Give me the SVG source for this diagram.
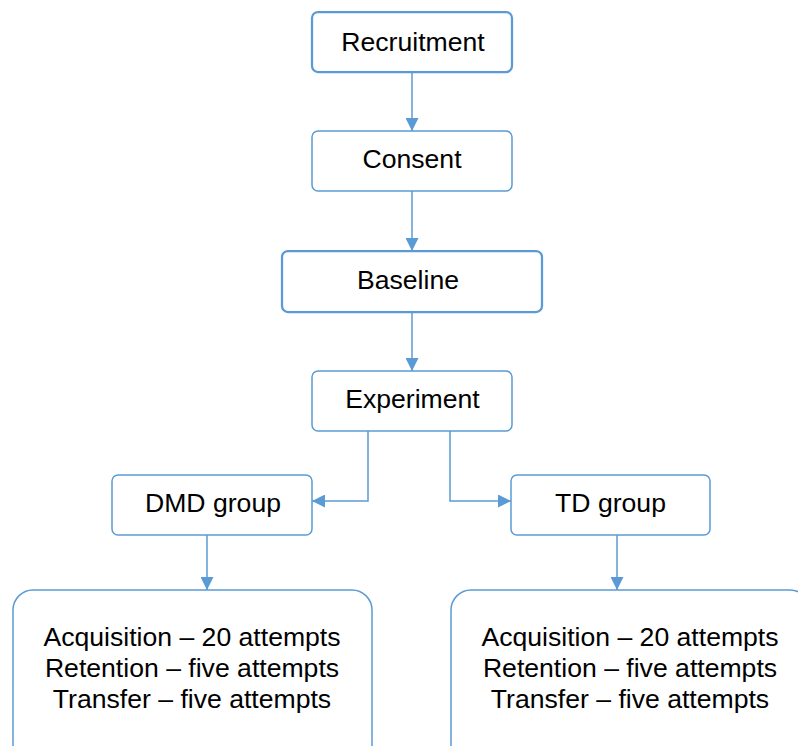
<svg xmlns="http://www.w3.org/2000/svg" width="798" height="746" viewBox="0 0 798 746">
<style>
.box{fill:#fff;stroke:#5b9bd5;stroke-width:1.5}
.thick{stroke-width:2.25}
.t{font-family:"Liberation Sans",Arial,sans-serif;font-size:26.6px;fill:#000;text-anchor:middle}
.c{fill:none;stroke:#5b9bd5;stroke-width:1.5}
</style>
<defs>
<marker id="ah" viewBox="0 0 10 10" refX="10" refY="5" markerWidth="13" markerHeight="13" markerUnits="userSpaceOnUse" orient="auto">
<path d="M0,0 L10,5 L0,10 z" fill="#5b9bd5"/>
</marker>
</defs>
<rect width="798" height="746" fill="#fff"/>
<g id="connectors">
<path class="c" d="M412,72 V131" marker-end="url(#ah)"/>
<path class="c" d="M412,191 V251" marker-end="url(#ah)"/>
<path class="c" d="M412,312 V371" marker-end="url(#ah)"/>
<path class="c" d="M368,431 V501 H312" marker-end="url(#ah)"/>
<path class="c" d="M450,431 V501 H511" marker-end="url(#ah)"/>
<path class="c" d="M207,535 V590" marker-end="url(#ah)"/>
<path class="c" d="M617,535 V590" marker-end="url(#ah)"/>
</g>
<g id="recruitment">
<rect class="box thick" x="312" y="12" width="200" height="60" rx="6"/>
<text class="t" x="413" y="51">Recruitment</text>
</g>
<g id="consent">
<rect class="box" x="312" y="131" width="200" height="60" rx="6"/>
<text class="t" x="412" y="168">Consent</text>
</g>
<g id="baseline">
<rect class="box thick" x="282" y="251" width="260" height="61" rx="6"/>
<text class="t" x="408" y="289">Baseline</text>
</g>
<g id="experiment">
<rect class="box" x="312" y="371" width="200" height="60" rx="6"/>
<text class="t" x="412.5" y="408">Experiment</text>
</g>
<g id="dmd">
<rect class="box" x="112" y="475" width="200" height="60" rx="6"/>
<text class="t" x="213" y="512">DMD group</text>
</g>
<g id="td">
<rect class="box" x="511" y="475" width="199" height="60" rx="6"/>
<text class="t" x="610.5" y="512">TD group</text>
</g>
<g id="dmd-tasks">
<rect class="box" x="13" y="590" width="359" height="180" rx="20"/>
<text class="t" x="192" y="646">Acquisition – 20 attempts</text>
<text class="t" x="192" y="677">Retention – five attempts</text>
<text class="t" x="192" y="708">Transfer – five attempts</text>
</g>
<g id="td-tasks">
<rect class="box" x="451" y="590" width="359" height="180" rx="20"/>
<text class="t" x="630" y="646">Acquisition – 20 attempts</text>
<text class="t" x="630" y="677">Retention – five attempts</text>
<text class="t" x="630" y="708">Transfer – five attempts</text>
</g>
</svg>
